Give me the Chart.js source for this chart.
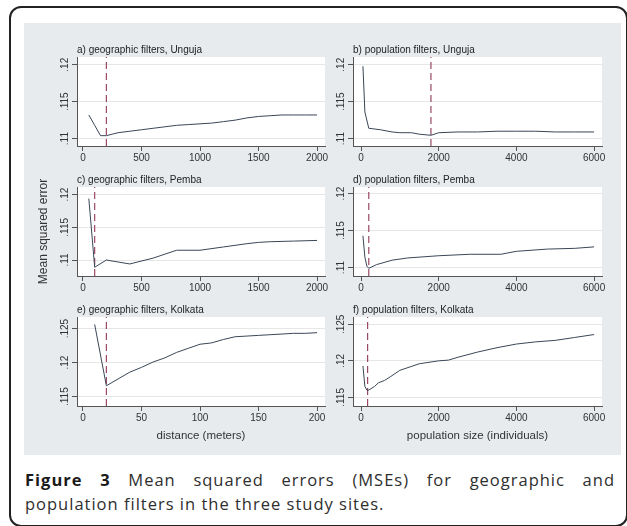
<!DOCTYPE html>
<html><head><meta charset="utf-8">
<script src="https://cdn.jsdelivr.net/npm/chart.js@4/dist/chart.umd.min.js"></script>
<style>
html,body{margin:0;padding:0;background:#fff;width:627px;height:526px;overflow:hidden;position:relative;font-family:"Liberation Sans",Arial,sans-serif;}
#frame{position:absolute;left:9px;top:6px;width:619px;height:521px;border:2px solid #222;border-radius:12px;box-sizing:border-box;}
#panel{position:absolute;left:24px;top:23px;width:597px;height:432px;background:#e7ebee;}
.wrap{position:absolute;}
.cap{position:absolute;left:25px;width:590px;font-family:"Open Sans",sans-serif;font-size:16.5px;color:#2e2e2e;letter-spacing:1px;line-height:24px;white-space:nowrap;}
.cap b{color:#1a1a1a;font-weight:700;}
</style>
</head><body>
<div id="frame"></div>
<div id="panel"></div>
<div class="wrap" style="left:33px;top:44px;width:312px;height:124px"><canvas id="ca" width="312" height="124"></canvas></div>
<div class="wrap" style="left:309px;top:44px;width:318px;height:124px"><canvas id="cb" width="318" height="124"></canvas></div>
<div class="wrap" style="left:33px;top:174px;width:312px;height:124px"><canvas id="cc" width="312" height="124"></canvas></div>
<div class="wrap" style="left:309px;top:174px;width:318px;height:124px"><canvas id="cd" width="318" height="124"></canvas></div>
<div class="wrap" style="left:33px;top:304px;width:312px;height:139px"><canvas id="ce" width="312" height="139"></canvas></div>
<div class="wrap" style="left:309px;top:304px;width:318px;height:139px"><canvas id="cf" width="318" height="139"></canvas></div>
<div class="cap" style="top:468px;text-align:justify;text-align-last:justify;"><b>Figure 3</b> Mean squared errors (MSEs) for geographic and</div>
<div class="cap" style="top:492px;">population filters in the three study sites.</div>
<script>
// ---- data ----
const geoUngujaX = [50, 100, 150, 200, 250, 300, 400, 500, 600, 700, 800, 900, 1000, 1100, 1200, 1300, 1400, 1500, 1600, 1700, 1800, 1900, 2000];
const geoUngujaY = [0.1132, 0.1118, 0.1104, 0.1104, 0.1106, 0.1108, 0.1110, 0.1112, 0.1114, 0.1116, 0.1118, 0.1119, 0.1120, 0.1121, 0.1123, 0.1125, 0.1128, 0.1130, 0.1131, 0.1132, 0.1132, 0.1132, 0.1132];

const popUngujaX = [50, 100, 200, 500, 800, 1000, 1300, 1500, 1800, 2000, 2500, 3000, 3500, 4000, 4500, 5000, 5500, 6000];
const popUngujaY = [0.1198, 0.1136, 0.1114, 0.1112, 0.1109, 0.1108, 0.1108, 0.1106, 0.11045, 0.1108, 0.1109, 0.1109, 0.1110, 0.1110, 0.1110, 0.1109, 0.1109, 0.1109];

const geoPembaX = [50, 100, 200, 400, 600, 800, 1000, 1200, 1400, 1500, 1600, 1800, 2000];
const geoPembaY = [0.1194, 0.1089, 0.1100, 0.1094, 0.1103, 0.1115, 0.1115, 0.1120, 0.1125, 0.1127, 0.1128, 0.1129, 0.1130];

const popPembaX = [50, 100, 150, 200, 400, 800, 1200, 2000, 2800, 3600, 4000, 4800, 5500, 6000];
const popPembaY = [0.1143, 0.1114, 0.1102, 0.1099, 0.1104, 0.1110, 0.1113, 0.1116, 0.1118, 0.1118, 0.1122, 0.1125, 0.1126, 0.1128];

const geoKolkataX = [10, 20, 30, 40, 50, 60, 70, 80, 90, 100, 110, 120, 130, 140, 150, 160, 170, 180, 190, 200];
const geoKolkataY = [0.1256, 0.1166, 0.1176, 0.1186, 0.1193, 0.1201, 0.1207, 0.1215, 0.1221, 0.1227, 0.1229, 0.1234, 0.1238, 0.1239, 0.1240, 0.1241, 0.1242, 0.1243, 0.1243, 0.1244];

const popKolkataX = [50, 100, 150, 200, 350, 450, 600, 750, 1000, 1500, 2000, 2250, 2500, 3000, 3500, 4000, 4500, 5000, 5500, 6000];
const popKolkataY = [0.1193, 0.1165, 0.1160, 0.1160, 0.1165, 0.1170, 0.1173, 0.1178, 0.1187, 0.1196, 0.1200, 0.1201, 0.1205, 0.1212, 0.1218, 0.1223, 0.1226, 0.1228, 0.1232, 0.1236];

// optimal filter (dashed vertical line)
const optimumX = [200, 1800, 100, 200, 20, 170];

const panelTitles = ["a) geographic filters, Unguja", "b) population filters, Unguja",
                     "c) geographic filters, Pemba", "d) population filters, Pemba",
                     "e) geographic filters, Kolkata", "f) population filters, Kolkata"];

// tick values and labels
const xTicksDist = [0, 500, 1000, 1500, 2000];
const xTicksDistK = [0, 50, 100, 150, 200];
const xTicksPop = [0, 2000, 4000, 6000];
const yTicksLow = [0.11, 0.115, 0.12];
const yLabelsLow = [".11", ".115", ".12"];
const yTicksHigh = [0.115, 0.12, 0.125];
const yLabelsHigh = [".115", ".12", ".125"];

const xTitleDist = "distance (meters)";
const xTitlePop = "population size (individuals)";
const yTitle = "Mean squared error";

// axis ranges
const xRangeDist = [-51, 2068];
const xRangeDistK = [-5.1, 206.8];
const xRangePop = [-206, 6203];
const yRanges = [[0.1090, 0.12105], [0.1090, 0.12105], [0.10756, 0.12117], [0.10886, 0.1209], [0.11363, 0.1267], [0.11382, 0.1260]];

// ---- drawing ----
const FONT = "'Liberation Sans', Arial, sans-serif";
const plotBg = {
  id: 'plotBg',
  beforeDraw(c) {
    const {ctx, chartArea: a} = c;
    ctx.save(); ctx.fillStyle = '#ffffff';
    ctx.fillRect(a.left, a.top, a.right - a.left, a.bottom - a.top);
    ctx.restore();
  }
};

function makePanel(id, idx, xs, ys, xTicks, xRange, yTicks, yLabels, col, xTitle, showYTitle) {
  const yr = yRanges[idx];
  const pts = xs.map((x, i) => ({x: x, y: ys[i]}));
  const opt = optimumX[idx];
  const xAxisH = xTitle ? 37 : 22;
  new Chart(document.getElementById(id), {
    type: 'line',
    data: {
      datasets: [
        {data: pts, borderColor: '#3b4757', borderWidth: 1, pointRadius: 0, tension: 0, fill: false},
        {data: [{x: opt, y: yr[0]}, {x: opt, y: yr[1]}], borderColor: '#9a4866', borderWidth: 1.2,
         borderDash: [7, 4], pointRadius: 0, fill: false}
      ]
    },
    options: {
      responsive: false, animation: false, events: [],
      layout: {padding: {left: 0, top: 0, bottom: 0, right: col === 0 ? 20 : 25}},
      plugins: {
        legend: {display: false}, tooltip: {enabled: false},
        title: {display: true, text: panelTitles[idx], align: 'start', fullSize: false,
                color: '#222', font: {family: FONT, size: 10, weight: 'normal', lineHeight: 1.2},
                padding: {top: 0, bottom: 1}}
      },
      scales: {
        x: {
          type: 'linear', min: xRange[0], max: xRange[1],
          afterBuildTicks: s => { s.ticks = xTicks.map(v => ({value: v})); },
          afterFit: s => { s.height = xAxisH; },
          ticks: {color: '#333', font: {family: FONT, size: 10}, padding: 1, maxRotation: 0,
                  callback: v => String(v)},
          grid: {drawOnChartArea: false, drawTicks: true, tickLength: 5, tickColor: '#555'},
          border: {display: true, color: '#555', width: 1},
          title: {display: !!xTitle, text: xTitle || '', color: '#333',
                  font: {family: FONT, size: 11.5}, padding: {top: 0, bottom: 0}}
        },
        y: {
          type: 'linear', min: yr[0], max: yr[1],
          afterBuildTicks: s => { s.ticks = yTicks.map(v => ({value: v})); },
          afterFit: s => { s.width = 44; },
          ticks: {color: '#333', font: {family: FONT, size: 10}, minRotation: 90, maxRotation: 90,
                  crossAlign: 'center', padding: -3,
                  callback: (v, i) => yLabels[i]},
          grid: {color: '#e6e6e6', lineWidth: 1, drawTicks: true, tickLength: 5, tickColor: '#555'},
          border: {display: true, color: '#555', width: 1},
          title: {display: !!showYTitle, text: yTitle, color: '#333',
                  font: {family: FONT, size: 12}, padding: {top: 3, bottom: 0}}
        }
      }
    },
    plugins: [plotBg]
  });
}

makePanel('ca', 0, geoUngujaX, geoUngujaY, xTicksDist, xRangeDist, yTicksLow, yLabelsLow, 0, null, false);
makePanel('cb', 1, popUngujaX, popUngujaY, xTicksPop, xRangePop, yTicksLow, yLabelsLow, 1, null, false);
makePanel('cc', 2, geoPembaX, geoPembaY, xTicksDist, xRangeDist, yTicksLow, yLabelsLow, 0, null, true);
makePanel('cd', 3, popPembaX, popPembaY, xTicksPop, xRangePop, yTicksLow, yLabelsLow, 1, null, false);
makePanel('ce', 4, geoKolkataX, geoKolkataY, xTicksDistK, xRangeDistK, yTicksHigh, yLabelsHigh, 0, xTitleDist, false);
makePanel('cf', 5, popKolkataX, popKolkataY, xTicksPop, xRangePop, yTicksHigh, yLabelsHigh, 1, xTitlePop, false);
</script>
</body></html>
